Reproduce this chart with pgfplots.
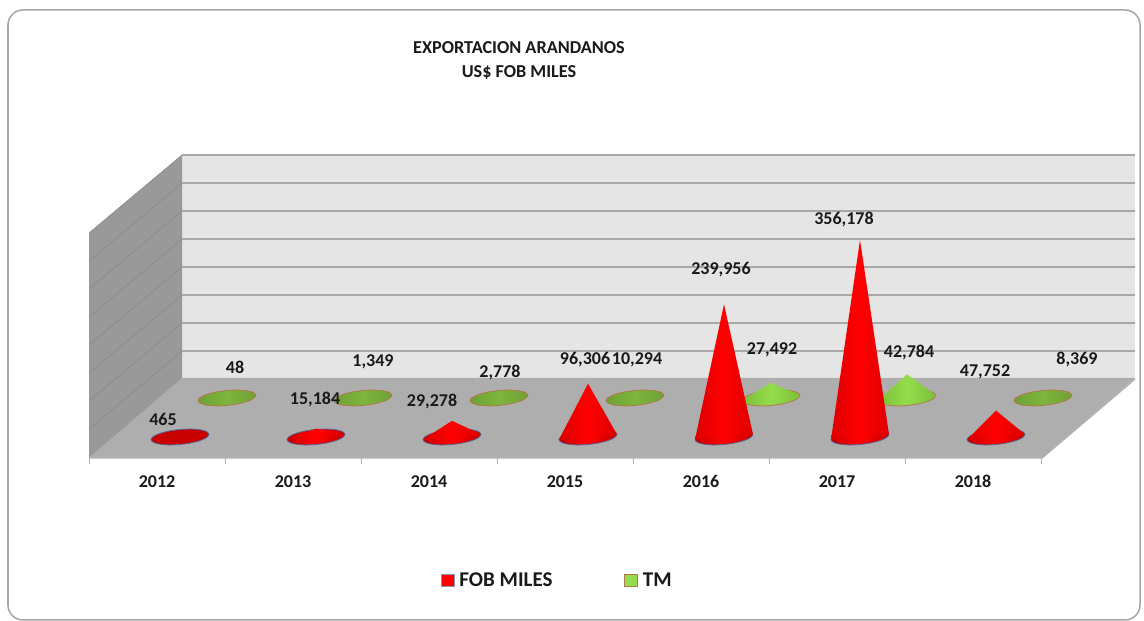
\documentclass[border=0pt]{standalone}
\usepackage{fontspec}
\usepackage{pgfplots}
\usepackage{pgfplotstable}
\pgfplotsset{compat=1.18}
\setmainfont{Carlito}
\definecolor{wallback}{HTML}{E5E5E5}
\definecolor{wallside}{HTML}{999999}
\definecolor{floorc}{HTML}{AEAEAE}
\definecolor{gridc}{HTML}{A8A8A8}
\definecolor{gridd}{HTML}{8A8A8A}
\definecolor{redbase}{HTML}{C80000}
\definecolor{reddark}{HTML}{DD0000}
\definecolor{greenflat}{HTML}{6FA035}
\definecolor{greenmid}{HTML}{7DB53E}
\definecolor{greenhi}{HTML}{95DC4C}
\definecolor{greenlo}{HTML}{7CBF38}
\definecolor{brownedge}{HTML}{B07A50}
\definecolor{blueedge}{HTML}{55689A}
\pgfplotstableread{
dx dy
29 2.6
26.8 5.28
20.5 7.15
11.1 7.93
0 7.5
-11.1 5.93
-20.5 3.45
-26.8 0.46
-29 -2.6
-26.8 -5.28
-20.5 -7.15
-11.1 -7.93
0 -7.5
11.1 -5.93
20.5 -3.45
26.8 -0.46
29 2.6
}\ellipsetable
\pgfplotstableread{
dx dy ap
-29 -2.6 0
0 0 1
29 2.6 0
}\conetable
% pixel coordinates of the reference to axis units
\pgfplotsset{
  table/pxy/.style={row sep=\\, x expr=(\thisrow{px}-157)/136, y expr=(437-\thisrow{py})*1808},
}
% #1 x centre (px), #2 base centre (py), #3 value, #4 base style, #5 cone style
\newcommand{\cone}[5]{%
  \addplot[forget plot, smooth, line width=0.8pt, #4] table[x expr=(#1+\thisrow{dx}-157)/136, y expr=(437-#2+\thisrow{dy})*1808] {\ellipsetable};
  \addplot[forget plot, draw=none, #5] table[x expr=(#1+\thisrow{dx}-157)/136, y expr=(437-#2+\thisrow{dy})*1808+\thisrow{ap}*#3] {\conetable};
}
\newcommand{\lab}[3]{\node[font=\fontsize{18}{20}\selectfont\bfseries, text=black!90] at (axis cs:{(#1-157)/136},{(437-#2-2)*1808}) {#3};}
\tikzset{
  fobbase/.style={draw=blueedge, left color=redbase, right color=redbase, middle color=red},
  fobflat/.style={draw=blueedge, fill=redbase},
  fobcone/.style={left color=reddark, right color=reddark, middle color=red},
  tmflat/.style={draw=brownedge, left color=greenflat, right color=greenflat, middle color=greenmid},
  tmbase/.style={draw=brownedge, left color=greenlo, right color=greenlo, middle color=greenhi},
  tmcone/.style={left color=greenlo, right color=greenlo, middle color=greenhi},
}
\begin{document}
\begin{tikzpicture}
\fill[white] (0,0) rectangle (1144pt,621pt);
\draw[color=black!35, line width=1.5pt, rounded corners=15pt] (8pt,1pt) rectangle (1140pt,611pt);
\begin{axis}[
  at={(0,0)}, anchor=south west,
  scale only axis, width=1144pt, height=621pt,
  xmin=-1.15441, xmax=7.25735, ymin=-332672, ymax=790096,
  axis line style={draw=none}, tick style={draw=none},
  ytick=\empty,
  xtick={0,1,2,3,4,5,6},
  xticklabels={2012,2013,2014,2015,2016,2017,2018},
  xticklabel style={font=\fontsize{18}{20}\selectfont\bfseries, text=black!90, anchor=base, yshift=133pt},
  legend style={at={(441/1144,1-580/621)}, anchor=west, draw=none, fill=none,
    legend columns=2, font=\fontsize{21}{23}\selectfont\bfseries, text=black!90,
    /tikz/every odd column/.append style={column sep=3pt},
    /tikz/every even column/.append style={column sep=70pt},
    inner sep=0pt, outer sep=0pt},
  legend cell align=left,
  legend image code/.code={\draw[#1] (0.8pt,-6.5pt) rectangle (13.5pt,6pt);},
]
% walls and floor
\addplot[forget plot, fill=wallback, draw=none] table[pxy] {px py\\ 182 155\\ 1135 155\\ 1135 379\\ 182 379\\};
\addplot[forget plot, fill=wallside, draw=none] table[pxy] {px py\\ 89 233\\ 182 155\\ 182 379\\ 89 458\\};
\addplot[forget plot, fill=floorc, draw=none] table[pxy] {px py\\ 89 458\\ 182 378\\ 1135 378\\ 1042 458\\};
% gridlines
\pgfplotsinvokeforeach{155,183,211,239,267,295,323,351}{
  \addplot[forget plot, draw=gridc, line width=2pt] table[pxy] {px py\\ 182 #1\\ 1135 #1\\};
}
\pgfplotsinvokeforeach{233,261,289,317,345,373,401,429}{
  \addplot[forget plot, draw=gridd, line width=0.6pt] table[pxy, y expr=(437-(\thisrow{py}-(\thisrow{px}-89)*78/93))*1808] {px py\\ 89 #1\\ 182 #1\\};
}
\addplot[forget plot, draw=black!30, line width=1.5pt] table[pxy] {px py\\ 89 458\\ 1042 458\\ 1135 379\\};
\pgfplotsinvokeforeach{89,225,361,497,633,769,905,1041}{
  \addplot[forget plot, draw=black!30, line width=1pt] table[pxy] {px py\\ #1 458\\ #1 464\\};
}
% TM (back row)
\cone{227}{398}{48}{tmflat}{tmflat,draw=none}
\cone{363}{398}{1349}{tmflat}{tmflat,draw=none}
\cone{499}{398}{2778}{tmflat}{tmflat,draw=none}
\cone{635}{398}{10294}{tmflat}{tmflat,draw=none}
\cone{771}{398}{27492}{tmbase}{tmcone}
\cone{907}{398}{42784}{tmbase}{tmcone}
\cone{1043}{398}{8369}{tmflat}{tmflat,draw=none}
% FOB MILES (front row)
\cone{180}{437}{465}{fobflat}{fobflat,draw=none}
\cone{316}{437}{15184}{fobbase}{fobcone}
\cone{452}{437}{29278}{fobbase}{fobcone}
\cone{588}{437}{96306}{fobbase}{fobcone}
\cone{724}{437}{239956}{fobbase}{fobcone}
\cone{860}{437}{356178}{fobbase}{fobcone}
\cone{996}{437}{47752}{fobbase}{fobcone}
% legend
\addlegendimage{fill=red, draw=blueedge!70, line width=0.8pt}
\addlegendentry{FOB MILES}
\addlegendimage{fill=greenhi, draw=brownedge, line width=0.8pt}
\addlegendentry{TM}
% data labels
\lab{163}{417}{465}
\lab{235}{365}{48}
\lab{315}{398}{15,184}
\lab{373}{360}{1,349}
\lab{432}{400}{29,278}
\lab{500}{371}{2,778}
\lab{585}{358}{96,306}
\lab{637}{358}{10,294}
\lab{721}{268}{239,956}
\lab{772}{348}{27,492}
\lab{844}{218}{356,178}
\lab{909}{351}{42,784}
\lab{985}{370}{47,752}
\lab{1077}{358}{8,369}
% title
\node[font=\fontsize{18.2}{24}\selectfont\bfseries, text=black!90, align=center] at (axis cs:{(519-157)/136},{(437-61)*1808}) {EXPORTACION ARANDANOS\\US\$ FOB MILES};
\end{axis}
\end{tikzpicture}
\end{document}
